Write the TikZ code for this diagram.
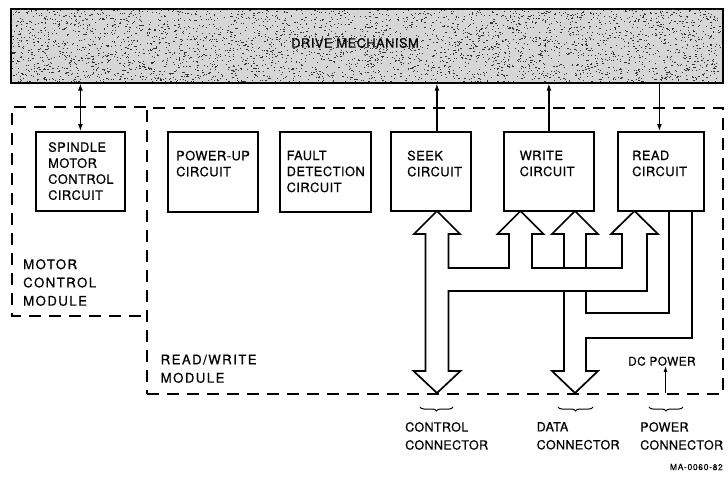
\documentclass[tikz,border=0pt]{standalone}
\usepackage{fontspec}
\setmainfont{TeX Gyre Heros}
\newfontfamily\boxfont[LetterSpace=4,FakeBold=0.6]{TeX Gyre Heros}
\newfontfamily\modfont[LetterSpace=11,FakeBold=0.6]{TeX Gyre Heros}
\newfontfamily\capfont[LetterSpace=3,FakeBold=0.6]{TeX Gyre Heros}
\newfontfamily\tinyfont[LetterSpace=8,FakeBold=0.5]{TeX Gyre Heros}
\usetikzlibrary{arrows.meta,decorations.pathreplacing}
\tikzset{
  cbox/.style={draw, line width=1.8pt, inner sep=0, anchor=north west},
  btext/.style={font=\boxfont\fontsize{12.8}{16}\selectfont, align=left, inner sep=0, anchor=north west},
  mtext/.style={font=\modfont\fontsize{13.2}{18.3}\selectfont, align=left, inner sep=0, anchor=north west},
  ctext/.style={font=\capfont\fontsize{12.5}{18}\selectfont, align=left, inner sep=0, anchor=north west},
  modline/.style={line width=2pt, dash pattern=on 12pt off 8pt},
  bus/.style={line width=1.7pt, line join=miter},
  sig/.style={line width=1.2pt, arrows={-Latex[length=7pt,width=5pt]}},
  brc/.style={line width=1pt, decorate, decoration={brace, mirror, amplitude=4pt}}
}
\begin{document}
\begin{tikzpicture}[x=1pt,y=-1pt]
\useasboundingbox (0,0) rectangle (728,479);
% drive mechanism
\node[draw, line width=1.6pt, minimum width=712pt, minimum height=74pt, inner sep=0, anchor=north west, fill=black!16] (drive) at (10,8) {};
\begin{scope}
\clip (11,9) rectangle (721,81);
\pgfmathsetseed{42}
\foreach \i in {1,...,3600}{\fill[black!80] ({10.5+711*rnd},{8.5+73*rnd}) rectangle ++(1.2,1);}
\end{scope}
\node[font=\boxfont\fontsize{12.8}{15}\selectfont, inner sep=0] (driveT) at (355,43) {DRIVE MECHANISM};
% modules
\node[modline, draw, minimum width=576pt, minimum height=286pt, inner sep=0, anchor=north west] (rwmod) at (146,107) {};
\coordinate (mA) at (146,316);
\coordinate (mB) at (12,316);
\coordinate (mC) at (12,107);
\coordinate (mD) at (146,107);
\draw[modline] (mD) -- (mC) -- (mB) -- (mA);
% circuit boxes
\node[cbox, minimum width=89pt, minimum height=79pt] (spindle) at (35,131) {};
\node[cbox, minimum width=90pt, minimum height=80pt] (powerup) at (167,131) {};
\node[cbox, minimum width=91pt, minimum height=80pt] (fault) at (279,131) {};
\node[cbox, minimum width=80pt, minimum height=79pt] (seek) at (390,131) {};
\node[cbox, minimum width=90pt, minimum height=79pt] (write) at (503,131) {};
\node[cbox, minimum width=86pt, minimum height=79pt] (read) at (617,131) {};
\node[btext] (spindleT) at (48,142) {SPINDLE\\MOTOR\\CONTROL\\CIRCUIT};
\node[btext] (powerupT) at (176,150.5) {POWER-UP\\CIRCUIT};
\node[btext] (faultT) at (286.5,150.5) {FAULT\\DETECTION\\CIRCUIT};
\node[btext] (seekT) at (407,150.5) {SEEK\\CIRCUIT};
\node[btext] (writeT) at (519.5,150.5) {WRITE\\CIRCUIT};
\node[btext] (readT) at (632,150.5) {READ\\CIRCUIT};
\node[mtext] (motorT) at (23,259) {MOTOR\\CONTROL\\MODULE};
\node[mtext] (rwT) at (160.5,354.5) {READ/WRITE\\MODULE};
% drive links
\coordinate (seekUp) at ([xshift=6pt]seek.north);
\coordinate (readDn) at ([xshift=-1.5pt]read.north);
\draw[sig, arrows={Latex[length=7pt,width=5pt]-Latex[length=7pt,width=5pt]}] (spindle.north) -- (spindle.north |- drive.south);
\draw[sig] (seekUp) -- (seekUp |- drive.south);
\draw[sig] (write.north) -- (write.north |- drive.south);
\draw[sig] (readDn |- drive.south) -- (readDn);
% control bus (seek, write, read)
\draw[bus] (413.5,371) -- (437,393) -- (460.5,371) -- (448.5,371) -- (448.5,291)
  -- (647,291) -- (647,234) -- (658,234) -- (634.5,211) -- (611,234) -- (622,234)
  -- (622,268) -- (532,268) -- (532,234) -- (543.5,234) -- (520.5,211) -- (497.5,234)
  -- (509,234) -- (509,268) -- (448.5,268) -- (448.5,234) -- (460,234) -- (437,211)
  -- (414,234) -- (425.5,234) -- (425.5,371) -- cycle;
% data bus
\draw[bus] (564,268) -- (564,234) -- (552,234) -- (575,211) -- (598,234) -- (586,234) -- (586,268);
\draw[bus] (564,291) -- (564,371) -- (552,371) -- (575,393) -- (598,371) -- (586,371)
  -- (586,338) -- (692,338) -- (692,210);
\draw[bus] (669,210) -- (669,313) -- (586,313) -- (586,291);
% DC power
\node[font=\boxfont\fontsize{11.8}{15}\selectfont, inner sep=0, anchor=north west] (dcT) at (628,356.5) {DC POWER};
\coordinate (dcIn) at (665.5,393);
\draw[sig, line width=1pt, arrows={-Latex[length=6pt,width=4pt]}] (dcIn) -- (dcIn |- dcT.south);
% connectors
\coordinate (b1) at (420,407); \coordinate (b2) at (453,407);
\coordinate (b3) at (558,407); \coordinate (b4) at (593,407);
\coordinate (b5) at (649,407); \coordinate (b6) at (683,407);
\draw[brc] (b1) -- (b2);
\draw[brc] (b3) -- (b4);
\draw[brc] (b5) -- (b6);
\node[ctext] (ctlT) at (405,422) {CONTROL\\CONNECTOR};
\node[ctext] (dataT) at (536.5,422) {DATA\\CONNECTOR};
\node[ctext] (pwrT) at (640,422) {POWER\\CONNECTOR};
\node[font=\tinyfont\fontsize{8.5}{10}\selectfont, inner sep=0, anchor=east] (maT) at (723,467) {MA-0060-82};
\end{tikzpicture}
\end{document}
